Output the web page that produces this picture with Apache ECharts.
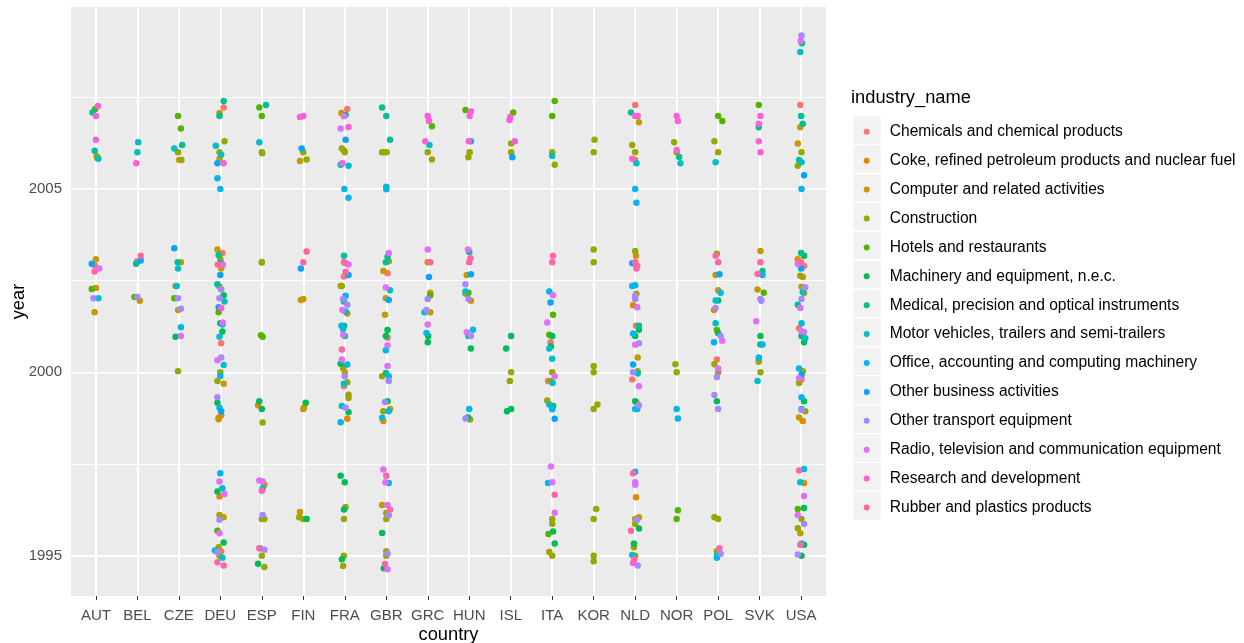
<!DOCTYPE html>
<html>
<head>
<meta charset="utf-8">
<script src="https://cdn.jsdelivr.net/npm/echarts@6/dist/echarts.min.js"></script>
<style>
html,body{margin:0;padding:0;background:#fff;}
#chart{width:1244px;height:643px;}
</style>
</head>
<body>
<div id="chart"></div>
<script>
// ---- categories ----
const countries = ["AUT","BEL","CZE","DEU","ESP","FIN","FRA","GBR","GRC","HUN","ISL","ITA","KOR","NLD","NOR","POL","SVK","USA"];
const industries = [
  "Chemicals and chemical products",
  "Coke, refined petroleum products and nuclear fuel",
  "Computer and related activities",
  "Construction",
  "Hotels and restaurants",
  "Machinery and equipment, n.e.c.",
  "Medical, precision and optical instruments",
  "Motor vehicles, trailers and semi-trailers",
  "Office, accounting and computing machinery",
  "Other business activities",
  "Other transport equipment",
  "Radio, television and communication equipment",
  "Research and development",
  "Rubber and plastics products"
];
const palette = ["#F8766D","#E38900","#C49A00","#99A800","#53B400","#00BC56","#00C094","#00BFC4","#00B6EB","#06A4FF","#A58AFF","#DF70F8","#FB61D7","#FF66A8"];
const yMajorTicks = [1995, 2000, 2005];
const yMinorTicks = [1997.5, 2002.5, 2007.5];

// ---- jittered observations per country: [x jitter, year (jittered), industry index] ----
const AUT = [[0.05,2007.26,12],[-0.02,2007.17,4],[-0.08,2007.08,6],[0,2006.99,12],[0,2006.34,12],[-0.03,2006.04,6],[0.02,2005.89,3],[0.03,2005.84,2],[0.06,2005.82,7],
  [0,2003.08,2],[-0.1,2002.96,9],[-0.03,2002.92,0],[0.08,2002.83,11],[-0.03,2002.75,13],[-0.1,2002.27,4],[0,2002.3,1],[-0.06,2002.02,10],[0.06,2002.02,7],[-0.03,2001.64,2]];
const BEL = [[0.02,2006.27,7],[0,2006,7],[-0.03,2005.7,12],[0.08,2003.18,13],[0.08,2003.05,9],[-0.01,2003.02,0],[-0.03,2002.96,6],[-0.07,2002.05,4],[0,2002.05,10],[0.06,2001.95,2]];
const CZE = [[-0.02,2006.99,4],[0.05,2006.65,4],[0.08,2006.2,6],[-0.11,2006.1,7],[-0.02,2006,3],[0.01,2005.79,2],[0.06,2005.79,3],
  [-0.11,2003.38,9],[-0.03,2003,6],[0.05,2003,2],[-0.02,2002.83,7],[-0.08,2002.35,1],[-0.05,2002.35,7],[-0.11,2002.02,4],[-0.02,2002.02,10],[-0.02,2001.7,2],[0.05,2001.73,10],[0.05,2001.23,8],[-0.08,2000.97,5],[0.05,2000.99,11],[-0.02,2000.03,3]];
const DEU = [[0.08,2007.4,6],[0.08,2007.22,0],[-0.02,2007.07,2],[-0.02,2006.99,6],[0.1,2006.3,3],[-0.11,2006.18,7],[-0.02,2006,3],[0.02,2005.93,7],[-0.02,2005.82,2],[-0.07,2005.7,9],[0.08,2005.7,12],[-0.07,2005.29,8],[0,2005,8],
  [-0.07,2003.35,2],[0.05,2003.25,0],[-0.04,2003.2,6],[0,2003.08,3],[0.02,2002.97,6],[-0.06,2002.93,13],[0.06,2002.93,11],[0.02,2002.83,2],[0,2002.65,9],[-0.07,2002.4,6],[-0.02,2002.34,2],[0.02,2002.26,10],[0.08,2002.1,5],[-0.02,2002.02,10],[0.1,2001.93,7],[0.02,2001.75,12],[-0.04,2001.77,9],[-0.04,2001.64,4],[0.06,2001.36,11],[0,2001.34,5],[0.05,2001.3,8],[0.05,2001.11,5],[-0.02,2000.97,7],[0.02,2000.79,0],[-0.07,2000.33,11],[0.02,2000.4,10],[0.08,2000.2,7],[0,2000,3],[0,1999.9,8],[-0.07,1999.76,3],[0.08,1999.69,2],[-0.07,1999.32,10],[-0.07,1999.17,5],[-0.02,1999.03,8],[0.02,1998.94,9],[0.02,1998.83,2],[-0.04,1998.76,2],[-0.04,1998.72,1],
  [0,1997.25,8],[-0.02,1997.02,11],[0.05,1996.84,7],[-0.07,1996.75,5],[0.1,1996.68,11],[-0.02,1996.61,1],[-0.02,1996.11,3],[0.08,1996.05,2],[-0.02,1995.98,10],[-0.07,1995.68,4],[-0.02,1995.61,11],[0.08,1995.36,5],[-0.04,1995.23,3],[-0.13,1995.14,8],[-0.07,1995.09,10],[0.02,1995.11,0],[-0.02,1995,3],[0.05,1994.94,7],[-0.07,1994.82,13],[0.08,1994.73,13]];
const ESP = [[-0.06,2007.22,4],[0.1,2007.29,6],[0,2006.99,4],[-0.06,2006.27,7],[0,2006,3],[0.01,2005.97,3],
  [0,2002.99,3],[0,2003.01,3],[0.02,2000.97,4],[-0.02,2001.01,4],[-0.06,1999.21,5],[-0.09,1999.1,1],[0,1999,5],[0.02,1998.63,3],
  [-0.06,1997.05,11],[0.02,1997.02,11],[0.06,1996.93,1],[0.02,1996.84,7],[0,1996.77,13],[0.02,1996.11,10],[0,1996,3],[0.06,1996,3],[-0.06,1995.2,13],[-0.04,1995.2,7],[0.06,1995.16,10],[0,1995,3],[-0.09,1994.78,5],[0.06,1994.69,3]];
const FIN = [[-0.08,2006.96,12],[0,2006.99,12],[-0.04,2006.1,9],[0,2006,3],[-0.08,2005.76,2],[0.08,2005.8,3],
  [0.08,2003.29,13],[0,2003,13],[-0.06,2002.83,9],[-0.06,2001.97,2],[0,2002,2],[0.06,1999.17,5],[0,1999,2],[0.02,1999.04,2],
  [-0.08,1996.19,2],[-0.1,1996.05,3],[0,1996,3],[0.08,1996,5]];
const FRA = [[0.06,2007.18,0],[-0.08,2007.07,2],[0.02,2007.02,6],[-0.02,2006.98,11],[-0.1,2006.65,11],[0.09,2006.69,12],[0.02,2006.34,9],[-0.07,2006.1,3],[-0.02,2006.05,2],[0,2006,3],[-0.1,2005.66,7],[-0.06,2005.7,12],[0.09,2005.63,7],[-0.01,2005,8],[0.09,2004.76,8],
  [-0.02,2003.18,6],[-0.02,2003,13],[0.02,2002.97,2],[0.09,2002.94,11],[0.02,2002.74,13],[-0.02,2002.61,0],[0.09,2002.65,9],[-0.1,2002.35,2],[-0.07,2002.35,3],[0.02,2002.09,8],[-0.04,2002,10],[-0.02,2001.93,6],[0.06,2001.84,10],[-0.06,2001.7,11],[0.02,2001.66,7],[0.06,2001.6,2],[-0.08,2001.27,8],[-0.02,2001.27,5],[-0.04,2001.18,7],[-0.04,2001.02,11],[0,2000.99,6],[-0.07,2000.62,13],[-0.07,2000.35,11],[-0.1,2000.23,5],[-0.04,2000.12,3],[0.06,2000.21,8],[0,2000,2],[0,1999.89,10],[-0.02,1999.69,7],[-0.02,1999.62,0],[0.06,1999.73,3],[0.09,1999.39,3],[0.09,1999.3,3],[-0.07,1999.08,7],[0.02,1999.03,10],[0.09,1998.91,5],[0.06,1998.73,1],[-0.1,1998.64,8],
  [-0.1,1997.18,5],[0,1997,5],[0.02,1996.33,3],[-0.02,1996.26,5],[-0.02,1996,3],[-0.02,1995,3],[-0.07,1994.9,5],[-0.04,1994.72,3]];
const GBR = [[-0.1,2007.22,6],[0,2006.99,6],[0.09,2006.34,6],[-0.1,2006,3],[0.01,2006,3],[-0.05,2006,2],[0,2005.06,8],[0,2004.99,8],
  [0.06,2003.25,11],[0.03,2003.15,6],[0.06,2003.03,3],[-0.01,2003,6],[-0.07,2002.76,2],[0.03,2002.7,0],[-0.01,2002.31,11],[0.09,2002.24,7],[-0.01,2002.02,2],[0.06,2001.97,9],[-0.03,2001.57,2],[0.03,2001.15,5],[-0.01,2000.99,5],[0.03,2000.94,0],[0.03,2000.74,11],[-0.01,2000.6,8],[0.03,2000.17,11],[-0.1,1999.89,3],[-0.01,1999.98,6],[0.06,1999.89,8],[0.06,1999.76,10],[-0.03,1999.19,10],[0.03,1999.21,5],[-0.07,1998.94,3],[0.09,1999,2],[0.06,1998.94,8],[-0.1,1998.76,7],[-0.07,1998.67,1],
  [-0.07,1997.35,11],[0,1997.18,13],[-0.02,1997,11],[0.06,1996.98,8],[-0.1,1996.38,2],[0.03,1996.38,11],[0.09,1996.26,13],[0,1996.16,3],[0.06,1996.1,10],[0,1996,3],[-0.1,1995.62,5],[0,1995.12,3],[0.03,1995.05,10],[0,1995,3],[-0.03,1994.77,13],[-0.06,1994.66,5],[0.03,1994.63,11]];
const GRC = [[0,2006.99,12],[0.03,2006.85,12],[0.1,2006.71,4],[-0.06,2006.3,12],[0.04,2006.2,7],[0,2006,3],[0.1,2005.8,3],
  [0,2003.35,11],[0,2003,2],[0.06,2003,13],[0.03,2002.6,9],[0.06,2002.17,2],[0.06,2002.1,4],[0,2002,10],[-0.03,2001.7,10],[-0.08,2001.64,7],[0.06,2001.64,2],[0,2001.3,11],[-0.03,2001.07,8],[0.01,2000.99,5],[0,2000.82,5]];
const HUN = [[-0.09,2007.15,4],[0.04,2007.11,12],[0.01,2006.99,12],[-0.01,2006.3,12],[0.04,2006.3,7],[0.01,2006,3],[-0.02,2005.86,3],
  [-0.03,2003.35,11],[0,2003.28,6],[0.03,2003.11,13],[0,2003,13],[0.04,2002.67,9],[-0.06,2002.65,2],[-0.09,2002.4,10],[-0.09,2002.2,7],[-0.02,2002.17,4],[-0.09,2002.14,2],[-0.02,2002,10],[0.04,2001.95,1],[-0.06,2001.09,11],[0.09,2001.16,8],[-0.02,2000.99,6],[0.04,2000.99,10],[0.04,2000.65,5],[0,1999,8],[-0.09,1998.74,10],[-0.03,1998.77,5],[0.02,1998.71,3]];
const ISL = [[0.06,2007.08,4],[-0.01,2006.96,12],[-0.03,2006.88,12],[0.1,2006.3,12],[0.01,2006.24,3],[0.01,2006,3],[0.04,2005.86,9],
  [0.01,2000.99,5],[-0.11,2000.65,5],[0.01,2000,3],[-0.02,1999.76,3],[-0.09,1998.94,5],[0.01,1999,5]];
const ITA = [[0.06,2007.4,4],[0,2006.99,4],[0,2006,3],[0,2005.9,7],[0.06,2005.66,3],
  [0.02,2003.18,13],[0,2003,13],[-0.07,2002.2,8],[0.02,2002.1,11],[-0.04,2001.9,9],[0.02,2001.57,4],[-0.12,2001.36,11],[-0.07,2001.02,4],[0,2000.99,5],[-0.04,2000.82,0],[-0.07,2000.65,7],[-0.03,2000.7,5],[0,2000.37,7],[0,2000,3],[0.06,1999.89,11],[-0.1,1999.76,0],[-0.04,1999.76,3],[0.01,1999.71,7],[-0.12,1999.23,3],[-0.07,1999.12,7],[0.02,1999.08,5],[0,1998.99,8],[0.06,1998.73,9],
  [-0.03,1997.43,11],[0,1997,11],[-0.1,1996.98,8],[0.06,1996.66,13],[0.06,1996.17,11],[0,1996,3],[0,1995.87,3],[0.02,1995.66,5],[-0.09,1995.59,4],[0.06,1995.33,5],[-0.07,1995.1,3],[0,1995,3]];
const KOR = [[0.02,2006.34,3],[0,2006,3],[0,2003.35,3],[0,2003,3],[0,2000.17,3],[0,2000,3],[0.09,1999.12,3],[0,1999,3],[0.06,1996.27,3],[0,1996,3],[0,1995,3],[0,1994.85,3]];
const NLD = [[0,2007.29,0],[-0.1,2007.08,6],[0,2006.99,12],[0.06,2006.99,12],[0.09,2006.82,2],[-0.07,2006.2,3],[0,2006,3],[-0.07,2005.82,12],[0,2005.79,2],[0.03,2005.7,7],[0,2005,8],[0.03,2004.62,8],
  [0,2003.31,3],[0.02,2003.18,2],[-0.07,2002.97,9],[0,2003,13],[0.05,2002.9,0],[0.03,2002.83,13],[-0.07,2002.35,8],[0,2002.37,8],[0.03,2002.14,2],[0,2002.08,10],[0,2002,10],[-0.05,2001.83,1],[0.05,2001.77,11],[0.02,2001.27,0],[0.09,2001.27,6],[0.09,2001.16,5],[-0.05,2001.06,8],[0,2000.99,5],[0,2000.75,11],[0.09,2000.79,10],[0.06,2000.4,2],[-0.05,2000.21,9],[0.06,2000.03,3],[-0.05,2000,10],[0.06,1999.97,7],[-0.07,1999.8,0],[0.09,1999.62,11],[0,1999.21,5],[0.03,1999.18,2],[0.09,1999.1,10],[0,1999,8],[0.05,1999,7],
  [-0.05,1997.25,13],[0,1997.29,8],[0,1997,11],[0,1996.93,11],[0.02,1996.59,1],[0,1996,3],[0.09,1996.05,2],[0.04,1995.98,10],[0,1995.86,3],[-0.1,1995.68,13],[0.09,1995.74,5],[-0.03,1995.33,5],[-0.03,1995.23,3],[-0.07,1995.02,7],[0,1995,3],[-0.02,1994.9,13],[-0.05,1994.8,12],[0.06,1994.73,10]];
const NOR = [[0,2006.99,12],[0.03,2006.85,12],[-0.06,2006.27,3],[0,2006,3],[0,2006.06,12],[0.06,2005.87,6],[0.09,2005.7,7],
  [-0.03,2000.22,3],[0,2000,3],[0,1999,8],[0.03,1998.74,8],[0.03,1996.24,4],[0,1996,4]];
const POL = [[0,2006.99,4],[0.1,2006.85,4],[-0.09,2006.3,3],[0,2006,3],[-0.06,2005.73,7],
  [-0.03,2003.23,3],[-0.06,2003.18,13],[0,2003,13],[0.03,2002.67,9],[-0.06,2002.65,2],[0,2002.24,2],[0.06,2002.17,8],[-0.06,2001.96,7],[0,2001.96,5],[-0.06,2001.75,10],[-0.1,2001.7,1],[-0.06,2001.34,7],[-0.03,2001.15,4],[0,2001.07,5],[0.06,2000.99,10],[0.1,2000.86,11],[-0.1,2000.82,8],[-0.03,2000.35,0],[-0.09,2000.22,3],[0,2000.1,11],[0,2000,3],[-0.03,1999.87,10],[-0.09,1999.38,10],[-0.03,1999.21,5],[0,1999,10],
  [-0.09,1996.05,3],[0,1996,3],[0.03,1995.2,13],[-0.03,1995.12,3],[-0.03,1995,7],[0.06,1995.05,10],[-0.03,1994.94,8]];
const SVK = [[-0.02,2007.29,4],[0.02,2006.99,12],[-0.02,2006.78,12],[-0.02,2006.68,6],[-0.02,2006.3,12],[0.02,2006,12],
  [0.02,2003.31,2],[0.02,2003,13],[-0.05,2002.68,13],[0.07,2002.76,6],[0.07,2002.65,8],[-0.05,2002.26,2],[0.1,2002.17,4],[0.02,2002,10],[0.04,2001.95,10],[-0.08,2001.39,11],[0.02,2000.99,5],[0.02,2000.76,5],[0.07,2000.76,8],[-0.02,2000.4,8],[-0.02,2000.29,3],[-0.02,2000.33,3],[0.02,2000,3],[-0.05,1999.76,7]];
const USA = [[0.01,2009.18,10],[-0.01,2009.04,11],[0.02,2008.97,6],[-0.02,2008.73,7],
  [-0.02,2007.29,0],[0,2006.99,6],[0.04,2006.78,6],[-0.02,2006.68,2],[-0.08,2006.24,2],[0.01,2006,3],[-0.05,2005.79,6],[0.01,2005.73,7],[-0.08,2005.63,3],[0.07,2005.37,9],[0.01,2005,8],
  [0,2003.25,6],[0.07,2003.18,5],[-0.08,2003.08,1],[0,2003,13],[-0.08,2002.95,11],[0.07,2002.9,0],[0,2002.83,9],[-0.02,2002.63,3],[0.04,2002.6,2],[0.01,2002.33,2],[0.1,2002.31,10],[0.04,2002.18,7],[0.07,2002.16,2],[0.01,2002,10],[-0.08,2001.84,6],[-0.02,2001.75,11],[0.01,2001.34,8],[-0.05,2001.2,0],[0.07,2001.1,10],[0.01,2001.12,11],[0.01,2000.99,5],[0.1,2000.93,7],[0.07,2000.82,5],[-0.05,2000.1,8],[0.04,2000.03,3],[0.01,1999.93,9],[-0.05,1999.84,11],[0.01,1999.8,0],[-0.05,1999.71,3],[0.01,1999.32,8],[0.07,1999.21,5],[0.01,1999,7],[0.01,1998.97,10],[0.1,1998.94,3],[-0.05,1998.77,2],[0.04,1998.67,1],
  [-0.05,1997.32,13],[0.07,1997.36,8],[-0.02,1997,7],[0.07,1996.98,1],[0.07,1996.63,11],[-0.08,1996.27,4],[0.07,1996.3,5],[-0.08,1996.11,11],[0.01,1996,3],[-0.08,1995.75,3],[0.07,1995.86,10],[-0.02,1995.61,2],[-0.02,1995.3,13],[0.01,1995.33,7],[0.07,1995.3,5],[-0.08,1995.03,10],[0.01,1995,5]];

const byCountry = [AUT,BEL,CZE,DEU,ESP,FIN,FRA,GBR,GRC,HUN,ISL,ITA,KOR,NLD,NOR,POL,SVK,USA];

// ---- build series ----
const pointSeries = industries.map((name, k) => {
  const data = [];
  byCountry.forEach((pts, ci) => pts.forEach(p => { if (p[2] === k) data.push([ci + p[0], p[1]]); }));
  return {
    name: name, type: 'scatter', data: data, symbol: 'circle', symbolSize: 6.5,
    itemStyle: { color: palette[k], opacity: 1 }, zlevel: 1, z: 3, silent: true
  };
});

const gridSeries = {
  type: 'scatter', data: [], silent: true, zlevel: 0, z: 1,
  markLine: {
    silent: true, symbol: ['none','none'], label: { show: false }, animation: false,
    data: [
      ...yMinorTicks.map(v => ({ yAxis: v, lineStyle: { color: '#ffffff', width: 1, type: 'solid' } })),
      ...yMajorTicks.map(v => ({ yAxis: v, lineStyle: { color: '#ffffff', width: 2, type: 'solid' } })),
      ...countries.map((c, i) => ({ xAxis: i, lineStyle: { color: '#ffffff', width: 2, type: 'solid' } }))
    ]
  }
};

// legend key backgrounds
const keyBoxes = industries.map((n, k) => ({
  type: 'rect', left: 853.3, top: 116.3 + k * 28.9, z: -1,
  shape: { width: 27.4, height: 27.6 }, style: { fill: '#F2F2F2' }, silent: true
}));

const FONT = 'Liberation Sans, Arial, sans-serif';
const chart = echarts.init(document.getElementById('chart'), null, { renderer: 'canvas' });
chart.setOption({
  animation: false,
  backgroundColor: '#ffffff',
  textStyle: { fontFamily: FONT },
  title: {
    text: 'industry_name', left: 851, top: 89, padding: 0,
    textStyle: { fontSize: 18.3, fontWeight: 'normal', color: '#000000', fontFamily: FONT }
  },
  legend: {
    data: industries, orient: 'vertical', left: 863.7, top: 122.8,
    itemWidth: 6, itemHeight: 6, itemGap: 10.9, icon: 'circle', padding: 0,
    selectedMode: false,
    textStyle: { fontSize: 15.6, color: '#000000', lineHeight: 18, padding: [0, 0, 0, 15], fontFamily: FONT }
  },
  graphic: keyBoxes,
  grid: { left: 71, right: 418, top: 7, bottom: 47, show: true, backgroundColor: '#EBEBEB', borderWidth: 0, outerBoundsMode: 'none', containLabel: false },
  xAxis: {
    type: 'value', min: -0.6, max: 17.6,
    name: 'country', nameLocation: 'middle', nameGap: 30, nameMoveOverlap: false,
    nameTextStyle: { fontSize: 18.3, color: '#000000' },
    axisLine: { show: false },
    axisTick: { show: true, length: 4, lineStyle: { color: '#333333', width: 1 }, customValues: countries.map((c, i) => i) },
    axisLabel: { show: true, margin: 12, fontSize: 15, color: '#4D4D4D', customValues: countries.map((c, i) => i),
      formatter: v => countries[Math.round(v)] },
    splitLine: { show: false }
  },
  yAxis: {
    type: 'value', min: 1993.9, max: 2009.96,
    name: 'year', nameLocation: 'middle', nameGap: 43, nameRotate: 90, nameMoveOverlap: false,
    nameTextStyle: { fontSize: 18.3, color: '#000000' },
    axisLine: { show: false },
    axisTick: { show: true, length: 4, lineStyle: { color: '#333333', width: 1 }, customValues: yMajorTicks },
    axisLabel: { show: true, margin: 9, fontSize: 15, color: '#4D4D4D', customValues: yMajorTicks,
      formatter: v => String(v) },
    splitLine: { show: false }
  },
  series: [gridSeries, ...pointSeries]
});
</script>
</body>
</html>
